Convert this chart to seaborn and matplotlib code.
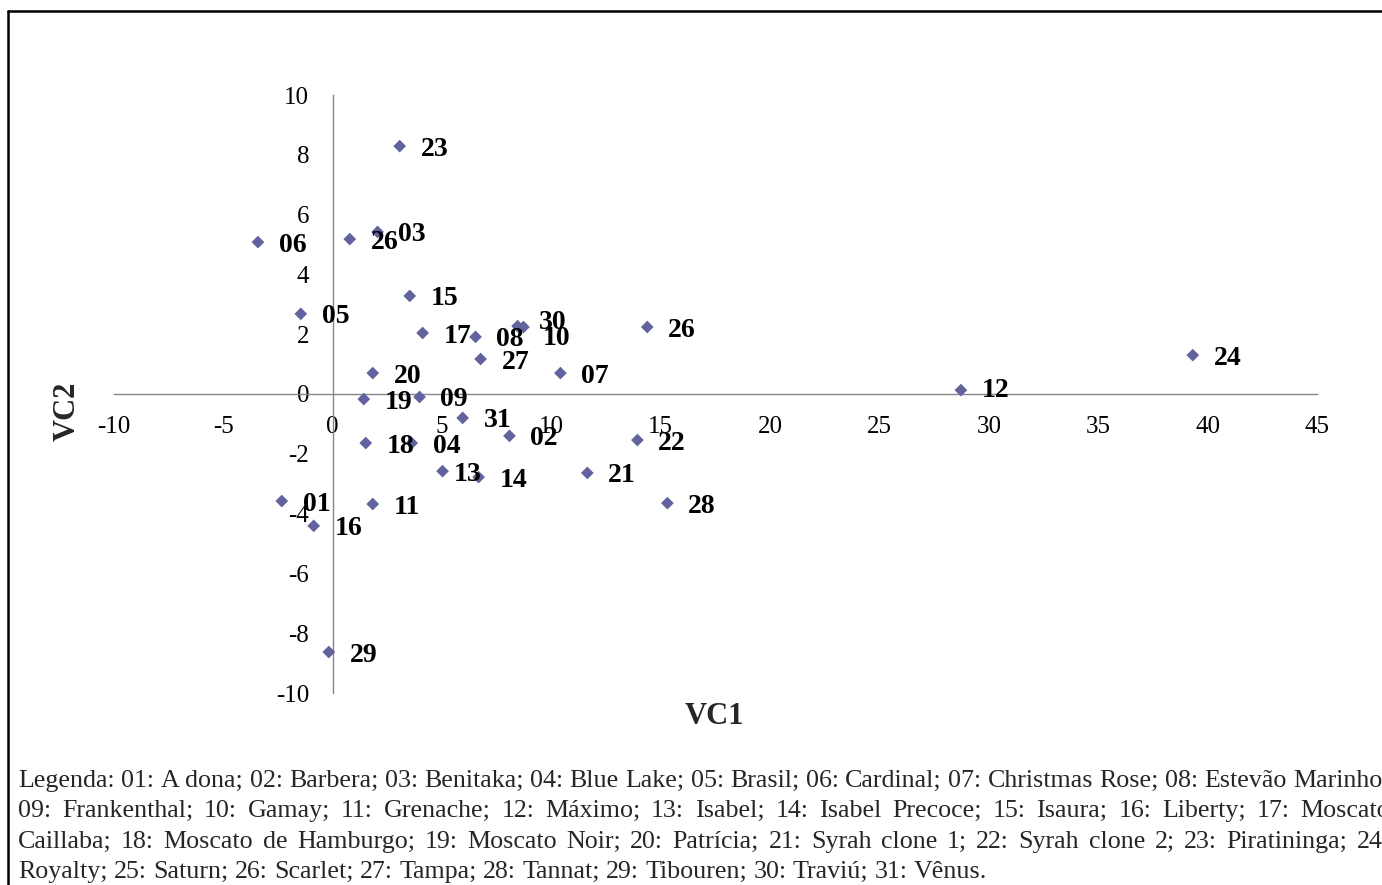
import pandas as pd
import matplotlib
matplotlib.use('Agg')
import matplotlib.pyplot as plt
import seaborn as sns
from matplotlib.lines import Line2D

# Cultivar codes and their scores on the two canonical variables
codes = ['23', '06', '26', '03', '15', '05', '17', '08', '30', '10',
         '27', '07', '20', '19', '09', '31', '02', '22', '18', '04',
         '13', '14', '21', '28', '01', '11', '16', '29', '26', '12', '24']
vc1 = [3.06, -3.42, 0.78, 2.05, 3.52, -1.46, 4.11, 6.53, 8.45, 8.72,
       6.76, 10.41, 1.83, 1.42, 3.97, 5.94, 8.08, 13.93, 1.51, 3.61,
       5.02, 6.67, 11.64, 15.30, -2.33, 1.83, -0.87, -0.18, 14.38, 28.72, 39.32]
vc2 = [8.29, 5.08, 5.18, 5.42, 3.28, 2.68, 2.04, 1.91, 2.27, 2.24,
       1.17, 0.70, 0.70, -0.17, -0.10, -0.80, -1.40, -1.54, -1.64, -1.64,
       -2.58, -2.78, -2.64, -3.65, -3.58, -3.68, -4.41, -8.63, 2.24, 0.13, 1.30]

x_ticks = list(range(-10, 46, 5))
y_ticks = list(range(-10, 11, 2))

legend_lines = [
    "Legenda: 01: A dona; 02: Barbera; 03: Benitaka; 04: Blue Lake; 05: Brasil; 06: Cardinal; 07: Christmas Rose; 08: Estevão Marinho;",
    "09: Frankenthal; 10: Gamay; 11: Grenache; 12: Máximo; 13: Isabel; 14: Isabel Precoce; 15: Isaura; 16: Liberty; 17: Moscato",
    "Caillaba; 18: Moscato de Hamburgo; 19: Moscato Noir; 20: Patrícia; 21: Syrah clone 1; 22: Syrah clone 2; 23: Piratininga; 24:",
    "Royalty; 25: Saturn; 26: Scarlet; 27: Tampa; 28: Tannat; 29: Tibouren; 30: Traviú; 31: Vênus.",
]

df = pd.DataFrame({'code': codes, 'VC1': vc1, 'VC2': vc2})

sns.set_style('white')
plt.rcParams['font.family'] = ['Liberation Serif', 'DejaVu Serif']
plt.rcParams['axes.unicode_minus'] = False

W, H = 1382, 885
fig = plt.figure(figsize=(W / 100, H / 100), dpi=100)
ax = fig.add_axes([114 / W, 1 - 693 / H, (1317 - 114) / W, (693 - 95) / H])

sns.scatterplot(data=df, x='VC1', y='VC2', marker='D', s=42, color='#62629E',
                edgecolor='none', linewidth=0, legend=False, ax=ax, zorder=3)

# point labels, bold, to the right of each marker (a few nudged as in the original)
nudge = {8: (15, 5), 9: (14, -6), 20: (8, 0), 29: (15, 2)}
for i, r in df.iterrows():
    dx, dy = nudge.get(i, (15, 0))
    ax.annotate(r['code'], (r['VC1'], r['VC2']), xytext=(dx, dy),
                textcoords='offset points', ha='left', va='center_baseline',
                fontsize=20, fontweight='bold', color='black', zorder=4)

ax.set_xlim(-10, 45)
ax.set_ylim(-10, 10)
ax.set_xticks(x_ticks)
ax.set_yticks(y_ticks)
ax.set_xlabel('')
ax.set_ylabel('')

for side in ['top', 'right']:
    ax.spines[side].set_visible(False)
for side in ['left', 'bottom']:
    ax.spines[side].set_position(('data', 0))
    ax.spines[side].set_color('#868686')
    ax.spines[side].set_linewidth(1)

ax.tick_params(axis='both', direction='out', length=5, width=1, color='#BFBFBF',
               labelsize=18, labelcolor='black')
ax.tick_params(axis='x', pad=11)
ax.tick_params(axis='y', pad=12)
ax.patch.set_alpha(0)

fig.text(714 / W, 1 - 717 / H, 'VC1', ha='center', va='center',
         fontsize=22, fontweight='bold')
fig.text(67 / W, 1 - 411 / H, 'VC2', ha='center', va='center', rotation=90,
         fontsize=22, fontweight='bold')

# frame around the figure (left and top visible)
fig.add_artist(Line2D([8 / W, 8 / W], [0, 1 - 11 / H], color='black', lw=1.8,
                      transform=fig.transFigure))
fig.add_artist(Line2D([8 / W, 1], [1 - 11 / H, 1 - 11 / H], color='black', lw=1.8,
                      transform=fig.transFigure))

# justified caption below the chart (runs past the right edge, as in the original)
renderer = fig.canvas.get_renderer()
cap_size = 18.75
left_px = 18
line_y = [781, 811, 842, 872]

probe = fig.text(0, 0, legend_lines[0], fontsize=cap_size)
natural = []
for line in legend_lines:
    probe.set_text(line)
    natural.append(probe.get_window_extent(renderer).width)
probe.remove()
target = max(natural[:3])

for i, line in enumerate(legend_lines):
    words = line.split(' ')
    texts = [fig.text(0, 1 - line_y[i] / H, w, ha='left', va='center',
                      fontsize=cap_size) for w in words]
    widths = [t.get_window_extent(renderer).width for t in texts]
    space = (natural[i] - sum(widths)) / (len(words) - 1)
    if i < len(legend_lines) - 1:
        gap = (target - sum(widths)) / (len(words) - 1)
    else:
        gap = space
    x = left_px
    for t, w in zip(texts, widths):
        t.set_x(x / W)
        x += w + gap

fig.savefig('out.png', dpi=100)
